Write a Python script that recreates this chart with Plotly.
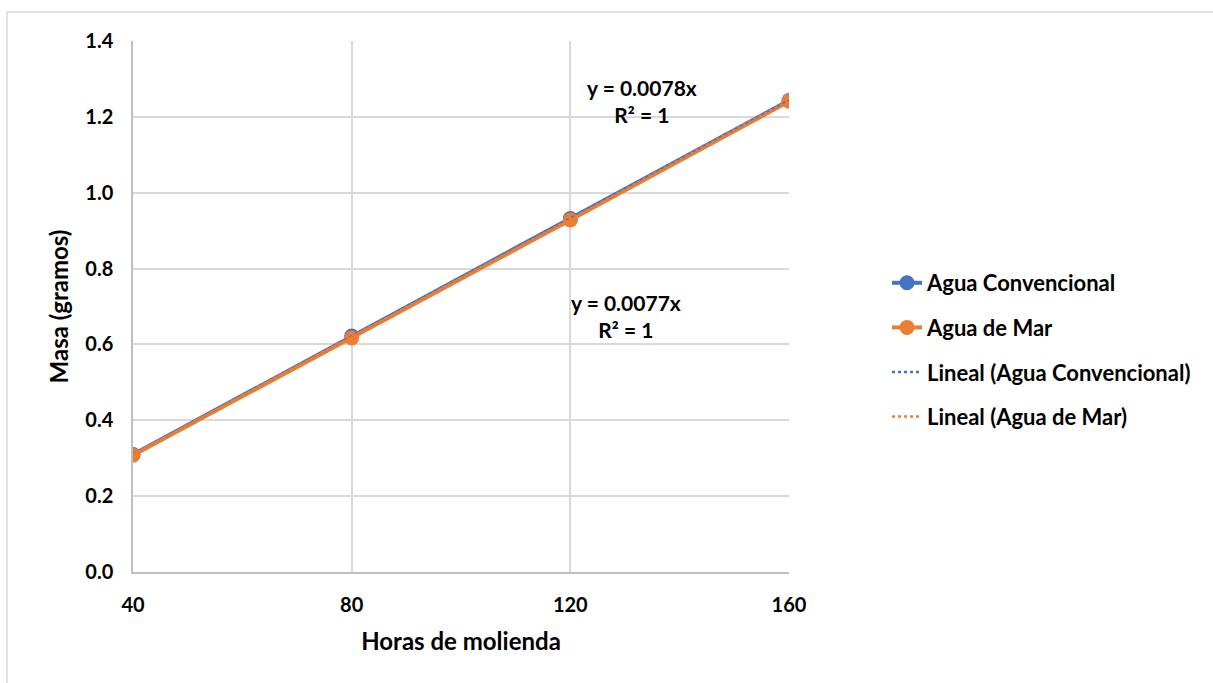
import numpy as np
import plotly.graph_objects as go

horas = [40, 80, 120, 160]
agua_conv = [0.310, 0.622, 0.932, 1.243]
agua_mar = [0.308, 0.617, 0.928, 1.241]
y_ticks = [0.0, 0.2, 0.4, 0.6, 0.8, 1.0, 1.2, 1.4]
x_ticks = [40, 80, 120, 160]

BLUE = "#4472C4"
ORANGE = "#ED7D31"
FONT = "Lato"

def origin_fit(x, y):
    x = np.asarray(x, float); y = np.asarray(y, float)
    return float((x * y).sum() / (x * x).sum())

m_conv = origin_fit(horas, agua_conv)
m_mar = origin_fit(horas, agua_mar)
trend_x = [horas[0], horas[-1]]

fig = go.Figure()
fig.add_trace(go.Scatter(x=horas, y=agua_conv, mode="lines+markers", name="Agua Convencional",
                         line=dict(color=BLUE, width=4), marker=dict(size=15, color=BLUE),
                         legendgroup="a"))
fig.add_trace(go.Scatter(x=horas, y=agua_mar, mode="lines+markers", name="Agua de Mar",
                         line=dict(color=ORANGE, width=4), marker=dict(size=15, color=ORANGE),
                         legendgroup="b"))
fig.add_trace(go.Scatter(x=trend_x, y=[m_conv * v for v in trend_x], mode="lines",
                         name="Lineal (Agua Convencional)",
                         line=dict(color=BLUE, width=2.5, dash="dot"), legendgroup="c"))
fig.add_trace(go.Scatter(x=trend_x, y=[m_mar * v for v in trend_x], mode="lines",
                         name="Lineal (Agua de Mar)",
                         line=dict(color=ORANGE, width=2.5, dash="dot"), legendgroup="d"))

W, H = 1213, 683
L, R, T, B = 133, 789, 41, 572

def px(x):
    return (x - L) / (R - L)

def py(y):
    return (B - y) / (B - T)

ann_font = dict(family=FONT, size=21, color="black", weight="bold")
fig.add_annotation(x=px(642), y=py(101), xref="paper", yref="paper", xanchor="center", yanchor="middle",
                   text="y = 0.0078x<br>R² = 1", showarrow=False, font=ann_font, align="center")
fig.add_annotation(x=px(626), y=py(316), xref="paper", yref="paper", xanchor="center", yanchor="middle",
                   text="y = 0.0077x<br>R² = 1", showarrow=False, font=ann_font, align="center")

fig.add_shape(type="rect", xref="paper", yref="paper",
              x0=px(7), y0=py(700), x1=px(1230), y1=py(12),
              line=dict(color="#D9D9D9", width=1.5), fillcolor="rgba(0,0,0,0)", layer="below")

tick_font = dict(family=FONT, size=20, color="black", weight="bold")
title_font = dict(family=FONT, size=24, color="black", weight="bold")

fig.update_layout(
    width=W, height=H,
    margin=dict(l=L, r=W - R, t=T, b=H - B),
    paper_bgcolor="white", plot_bgcolor="white",
    font=dict(family=FONT, size=16, color="black"),
    legend=dict(x=px(887), y=py(350), xanchor="left", yanchor="middle",
                font=dict(family=FONT, size=22, color="black", weight="bold"),
                tracegroupgap=13, traceorder="grouped", bgcolor="rgba(0,0,0,0)"),
    xaxis=dict(range=[40, 160], tickvals=x_ticks, showgrid=True, gridcolor="#D9D9D9", gridwidth=1.5,
               showline=True, linecolor="#BFBFBF", linewidth=1.5, zeroline=False,
               ticks="outside", ticklen=14, tickcolor="rgba(0,0,0,0)",
               tickfont=tick_font,
               title=dict(text="Horas de molienda", standoff=18, font=title_font)),
    yaxis=dict(range=[0, 1.4], tickvals=y_ticks, tickformat=".1f", showgrid=True,
               gridcolor="#D9D9D9", gridwidth=1.5,
               showline=True, linecolor="#BFBFBF", linewidth=1.5, zeroline=False,
               ticks="outside", ticklen=14, tickcolor="rgba(0,0,0,0)",
               tickfont=tick_font,
               title=dict(text="Masa (gramos)", standoff=10, font=title_font)),
)

fig.write_html("out.html")
